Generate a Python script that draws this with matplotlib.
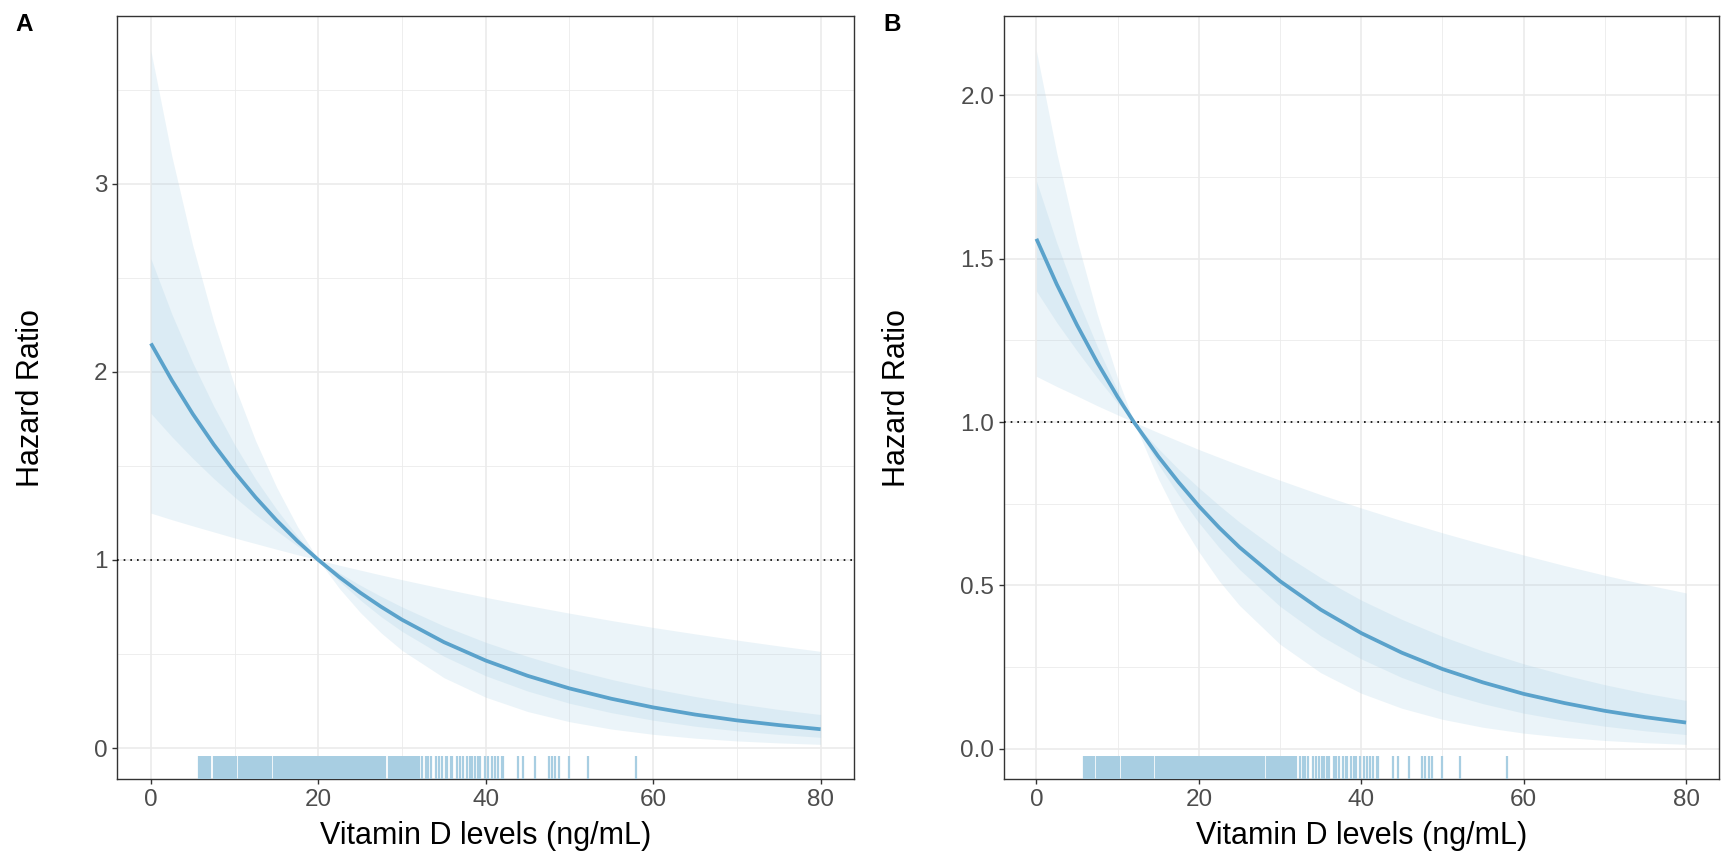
import matplotlib
matplotlib.use("Agg")
import matplotlib.pyplot as plt
from matplotlib.ticker import MultipleLocator, FormatStrFormatter

plt.rcParams['font.family'] = ['Liberation Sans', 'DejaVu Sans']

# ---- panel A : hazard ratio curve with two confidence bands ----
a_x = [0, 2.5, 5, 7.5, 10, 12.5, 15, 17.5, 20, 22.5, 25, 27.5, 30, 35, 40, 45, 50, 55, 60, 65, 70, 75, 80]
a_hr = [2.151, 1.955, 1.776, 1.614, 1.467, 1.333, 1.211, 1.100, 1.0, 0.909, 0.826, 0.751, 0.682, 0.563,
        0.465, 0.384, 0.317, 0.262, 0.216, 0.178, 0.147, 0.122, 0.100]
a_out_lo = [1.249, 1.214, 1.181, 1.149, 1.117, 1.087, 1.057, 1.028, 1.0, 0.849, 0.721, 0.612, 0.519, 0.374,
            0.270, 0.194, 0.140, 0.101, 0.0728, 0.0525, 0.0378, 0.0273, 0.0196]
a_out_hi = [3.706, 3.146, 2.671, 2.268, 1.925, 1.634, 1.388, 1.178, 1.0, 0.972, 0.946, 0.920, 0.895, 0.847,
            0.801, 0.758, 0.717, 0.678, 0.641, 0.607, 0.574, 0.543, 0.514]
a_in_lo = [1.779, 1.655, 1.540, 1.433, 1.334, 1.241, 1.155, 1.074, 1.0, 0.887, 0.787, 0.698, 0.620, 0.488,
           0.384, 0.303, 0.238, 0.188, 0.148, 0.116, 0.0916, 0.0722, 0.0568]
a_in_hi = [2.601, 2.307, 2.048, 1.818, 1.613, 1.430, 1.270, 1.127, 1.0, 0.931, 0.866, 0.806, 0.750, 0.649,
           0.562, 0.487, 0.421, 0.365, 0.316, 0.274, 0.237, 0.205, 0.178]

# ---- panel B ----
b_x = [0, 2.5, 5, 7.5, 10, 12, 15, 17.5, 20, 22.5, 25, 30, 35, 40, 45, 50, 55, 60, 65, 70, 75, 80]
b_hr = [1.561, 1.422, 1.297, 1.182, 1.077, 1.0, 0.895, 0.816, 0.743, 0.677, 0.617, 0.513, 0.426, 0.354,
        0.294, 0.244, 0.203, 0.168, 0.140, 0.116, 0.0966, 0.0802]
b_out_lo = [1.140, 1.109, 1.080, 1.050, 1.022, 1.0, 0.827, 0.704, 0.603, 0.514, 0.439, 0.320, 0.233, 0.170,
            0.124, 0.0902, 0.0657, 0.0479, 0.0349, 0.0254, 0.0185, 0.0135]
b_out_hi = [2.136, 1.824, 1.557, 1.330, 1.135, 1.0, 0.968, 0.942, 0.916, 0.892, 0.868, 0.822, 0.778, 0.737,
            0.698, 0.661, 0.626, 0.593, 0.561, 0.531, 0.503, 0.477]
b_in_lo = [1.401, 1.305, 1.218, 1.135, 1.058, 1.0, 0.871, 0.777, 0.692, 0.616, 0.549, 0.436, 0.346, 0.275,
           0.218, 0.173, 0.138, 0.109, 0.0869, 0.0690, 0.0548, 0.0435]
b_in_hi = [1.738, 1.549, 1.381, 1.231, 1.097, 1.0, 0.919, 0.856, 0.799, 0.745, 0.694, 0.603, 0.524, 0.455,
           0.396, 0.344, 0.299, 0.260, 0.226, 0.196, 0.170, 0.148]

# observed vitamin D values (rug), same for both panels
rug_vals = [5.8, 6.0, 6.2, 6.5, 6.7, 6.9, 7.1, 7.5, 7.7, 7.9, 8.1, 8.3, 8.5, 8.7, 8.9, 9.1, 9.3,
            9.6, 9.8, 10.0, 10.2, 10.5, 10.7, 10.9, 11.1, 11.3, 11.5, 11.7, 11.9, 12.1, 12.3,
            12.5, 12.7, 12.9, 13.1, 13.3, 13.5, 13.7, 13.9, 14.1, 14.3, 14.7, 14.9, 15.1, 15.3,
            15.5, 15.7, 15.9, 16.1, 16.3, 16.5, 16.7, 16.9, 17.1, 17.3, 17.5, 17.7, 17.9, 18.1,
            18.3, 18.5, 18.7, 18.9, 19.1, 19.3, 19.5, 19.7, 19.9, 20.1, 20.3, 20.5, 20.7, 20.9,
            21.1, 21.3, 21.5, 21.7, 21.9, 22.1, 22.3, 22.5, 22.7, 22.9, 23.1, 23.3, 23.5, 23.7,
            23.9, 24.1, 24.3, 24.5, 24.7, 24.9, 25.1, 25.3, 25.5, 25.7, 25.9, 26.1, 26.3, 26.5,
            26.7, 26.9, 27.1, 27.3, 27.5, 27.7, 27.9, 28.0, 28.4, 28.6, 28.8, 29.0, 29.2, 29.4,
            29.6, 29.8, 30.0, 30.2, 30.4, 30.6, 30.8, 31.0, 31.2, 31.4, 31.6, 31.8,
            32.0, 32.4, 32.8, 33.1, 33.4, 34.0, 34.4, 34.8, 35.2, 35.4, 35.8, 36.0, 36.6, 36.9,
            37.3, 37.7, 38.1, 38.3, 38.7, 39.1, 39.3, 39.9, 40.3, 40.7, 41.1, 41.5, 41.9, 42.1,
            43.9, 44.5, 45.9, 47.5, 47.9, 48.3, 48.7, 50.0, 52.2, 58.0]

x_ticks = [0, 20, 40, 60, 80]

line_col = '#5aa2cb'
band_col = '#9ecae1'
rug_col = '#a8cee2'
grid_col = '#ebebeb'

fig = plt.figure(figsize=(17.22, 8.57), dpi=100)
axA = fig.add_axes([0.0682, 0.091, 0.4278, 0.890])
axB = fig.add_axes([0.583, 0.091, 0.415, 0.890])


def draw_panel(ax, x, hr, olo, ohi, ilo, ihi, ymaj, ymin_step):
    ax.fill_between(x, olo, ohi, color=band_col, alpha=0.2, lw=0, zorder=2)
    ax.fill_between(x, ilo, ihi, color=band_col, alpha=0.2, lw=0, zorder=2)
    ax.plot(x, hr, color=line_col, lw=2.7, zorder=4, solid_capstyle='butt')
    ax.axhline(1, color='black', lw=1.2, linestyle=(0, (1, 3.0)), zorder=3)
    ax.vlines(rug_vals, 0, 0.03, transform=ax.get_xaxis_transform(),
              color=rug_col, lw=1.6, zorder=3)
    lo = min(olo)
    hi = max(ohi)
    pad = (hi - lo) * 0.05
    ax.set_ylim(lo - pad, hi + pad)
    ax.set_xlim(-4, 84)
    ax.set_xticks(x_ticks)
    ax.xaxis.set_minor_locator(MultipleLocator(10))
    ax.yaxis.set_major_locator(MultipleLocator(ymaj))
    ax.yaxis.set_minor_locator(MultipleLocator(ymin_step))
    ax.grid(which='major', color=grid_col, lw=1.2, zorder=0)
    ax.grid(which='minor', color=grid_col, lw=0.6, zorder=0)
    ax.set_axisbelow(True)
    ax.tick_params(which='minor', length=0)
    ax.tick_params(which='major', length=3.5, width=1.0, color='#333333',
                   labelsize=17.5, labelcolor='#4d4d4d', pad=3.5)
    for s in ax.spines.values():
        s.set_color('#333333')
        s.set_linewidth(1.0)


draw_panel(axA, a_x, a_hr, a_out_lo, a_out_hi, a_in_lo, a_in_hi, 1, 0.5)
draw_panel(axB, b_x, b_hr, b_out_lo, b_out_hi, b_in_lo, b_in_hi, 0.5, 0.25)
axB.yaxis.set_major_formatter(FormatStrFormatter('%.1f'))

for ax, ylab_x, tag_x, tag in [(axA, 0.018, 0.009, 'A'), (axB, 0.521, 0.513, 'B')]:
    pos = ax.get_position()
    fig.text((pos.x0 + pos.x1) / 2, 0.025, 'Vitamin D levels (ng/mL)', fontsize=22,
             ha='center', va='center')
    fig.text(ylab_x, (pos.y0 + pos.y1) / 2, 'Hazard Ratio', fontsize=22, rotation=90,
             ha='center', va='center')
    fig.text(tag_x, 0.985, tag, fontsize=17.5, fontweight='bold', ha='left', va='top')

plt.savefig('out.png', dpi=100)
